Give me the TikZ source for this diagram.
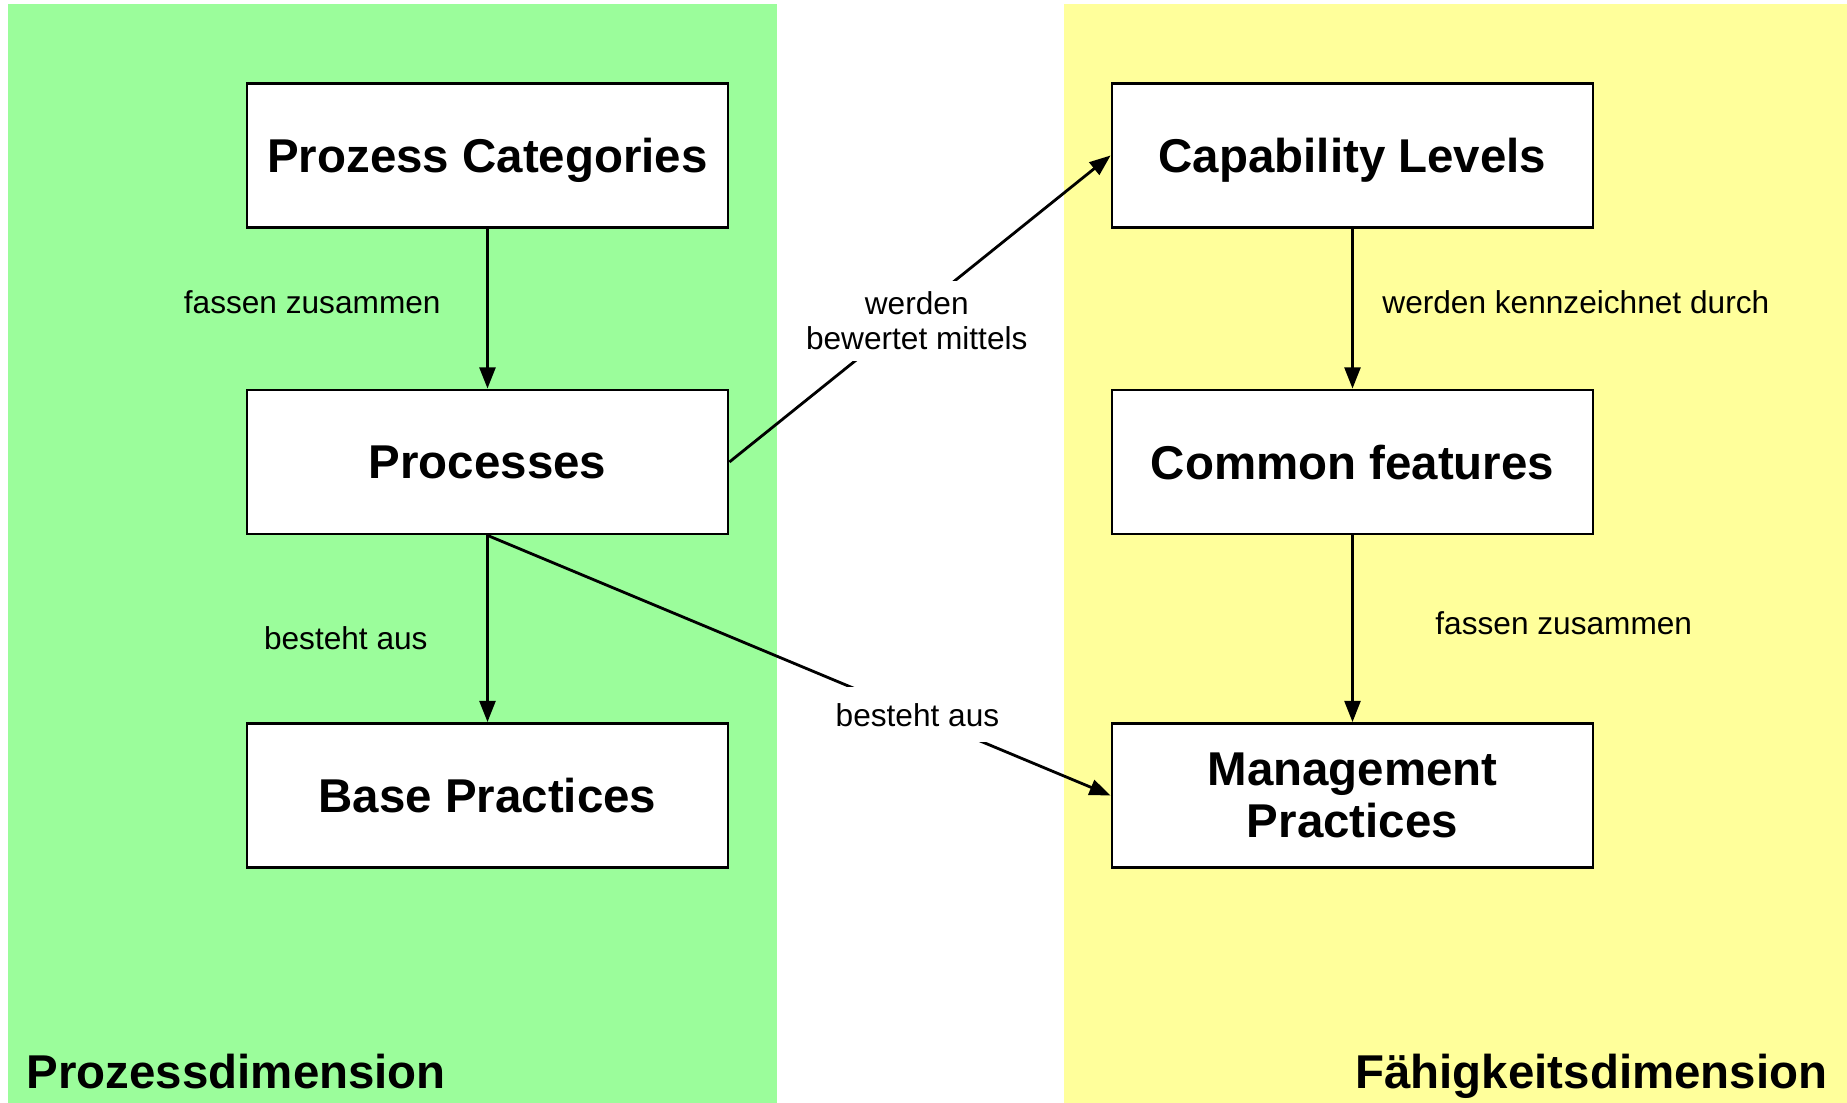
\documentclass[tikz,border=0pt]{standalone}
\usepackage{fontspec}
\setmainfont{Liberation Sans}
\usetikzlibrary{arrows.meta}
\definecolor{prozgreen}{RGB}{155,253,155}
\definecolor{faehyellow}{RGB}{255,255,155}

\begin{document}
\begin{tikzpicture}[
        box/.style={draw, line width=0.8pt, fill=white, minimum width=4.81cm, minimum height=1.44cm, text depth=0pt, align=center, font=\fontsize{13.5}{14.7}\selectfont\bfseries},
        lbl/.style={font=\fontsize{9}{10}\selectfont, align=center, inner sep=1pt},
        arr/.style={-{Triangle[length=6pt,width=4.5pt]}, line width=0.8pt},
        dim/.style={font=\fontsize{13.5}{15}\selectfont\bfseries, inner sep=0pt}
    ]
        \useasboundingbox (0,0) rectangle (18.47,11.03);
        \fill[prozgreen] (0.08,0) rectangle (7.77,10.99);
        \fill[faehyellow] (10.64,0) rectangle (18.47,10.99);

        \node[box] (pc) at (4.875,9.475) {Prozess Categories};
        \node[box] (proc) at (4.875,6.41) {Processes};
        \node[box] (bp) at (4.875,3.075) {Base Practices};

        \node[box] (cl) at (13.525,9.475) {Capability Levels};
        \node[box] (cf) at (13.525,6.41) {Common features};
        \node[box] (mp) at (13.525,3.075) {Management\\Practices};

        \draw [arr] (pc) -- (proc) node[lbl, pos=0.46, left=0.42cm] {fassen zusammen};
        \draw [arr] (proc) -- (bp) node[lbl, pos=0.55, left=0.55cm] {besteht aus};
        \draw [arr] (cl) -- (cf) node[lbl, pos=0.46, right=0.25cm] {werden kennzeichnet durch};
        \draw [arr] (cf) -- (mp) node[lbl, pos=0.47, right=0.78cm] {fassen zusammen};

        \draw [arr] (proc.east) -- (cl.west) node[lbl, fill=white, pos=0.46, xshift=0.12cm, inner sep=3pt] {werden\\bewertet mittels};
        \draw [arr] (proc.south) -- (mp.west) node[lbl, fill=white, pos=0.69, inner xsep=5pt, inner ysep=4.5pt] {besteht aus};

        \node[dim, anchor=west] (pd) at (0.26,0.31) {Prozessdimension};
        \node[dim, anchor=base east] (fd) at (18.28,0|-pd.base) {Fähigkeitsdimension};
    \end{tikzpicture}
\end{document}
